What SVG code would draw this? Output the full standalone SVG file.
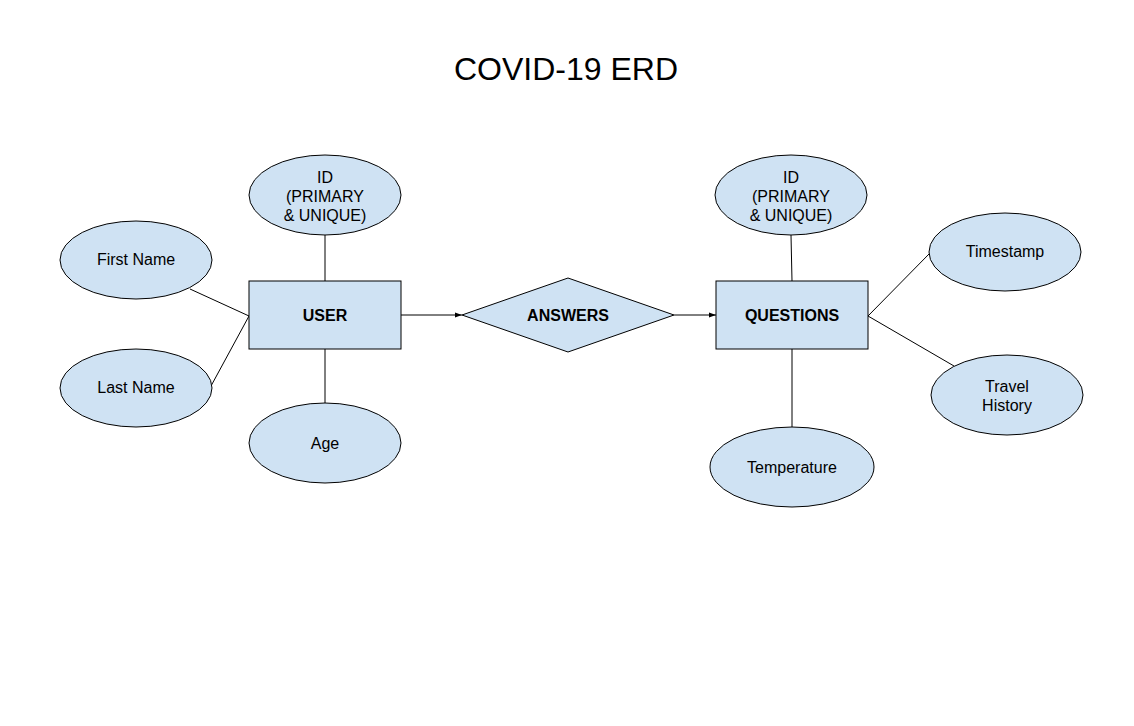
<svg xmlns="http://www.w3.org/2000/svg" width="1134" height="726" viewBox="0 0 1134 726">
<defs>
<marker id="arr" markerWidth="8" markerHeight="8" refX="7" refY="4" orient="auto" markerUnits="userSpaceOnUse">
<path d="M0,1.5 L7,4 L0,6.5 Z" fill="#000"/>
</marker>
<style>
.shape{fill:#cfe2f3;stroke:#000;stroke-width:1}
.lbl{font-family:"Liberation Sans",Arial,sans-serif;font-size:16px;fill:#000;text-anchor:middle}
.b{font-weight:bold;font-size:16px}
.ln{stroke:#000;stroke-width:1;fill:none}
</style>
</defs>
<rect width="1134" height="726" fill="#fff"/>
<text x="566" y="80" class="lbl" style="font-size:32px">COVID-19 ERD</text>
<g id="connectors">
<line class="ln" x1="325" y1="235" x2="325" y2="281"/>
<line class="ln" x1="325" y1="349" x2="325" y2="403"/>
<line class="ln" x1="190" y1="289" x2="249" y2="316"/>
<line class="ln" x1="211" y1="386" x2="249" y2="316"/>
<line class="ln" x1="401" y1="315" x2="462" y2="315" marker-end="url(#arr)"/>
<line class="ln" x1="674" y1="315" x2="716" y2="315" marker-end="url(#arr)"/>
<line class="ln" x1="791" y1="235" x2="792" y2="281"/>
<line class="ln" x1="792" y1="349" x2="792" y2="427"/>
<line class="ln" x1="868" y1="316" x2="930" y2="253"/>
<line class="ln" x1="868" y1="316" x2="954" y2="366"/>
</g>
<g id="user">
<rect class="shape" x="249" y="281" width="152" height="68"/>
<text class="lbl b" x="325" y="321">USER</text>
</g>
<g id="answers">
<polygon class="shape" points="462,315 568,278 674,315 568,352"/>
<text class="lbl b" x="568" y="321">ANSWERS</text>
</g>
<g id="questions">
<rect class="shape" x="716" y="281" width="152" height="68"/>
<text class="lbl b" x="792" y="321">QUESTIONS</text>
</g>
<g id="user-id">
<ellipse class="shape" cx="325" cy="195" rx="76" ry="40"/>
<text class="lbl" x="325" y="183">ID</text>
<text class="lbl" x="325" y="202">(PRIMARY</text>
<text class="lbl" x="325" y="221">&amp; UNIQUE)</text>
</g>
<g id="first-name">
<ellipse class="shape" cx="136" cy="260" rx="76" ry="39"/>
<text class="lbl" x="136" y="265">First Name</text>
</g>
<g id="last-name">
<ellipse class="shape" cx="136" cy="388" rx="76" ry="39"/>
<text class="lbl" x="136" y="393">Last Name</text>
</g>
<g id="age">
<ellipse class="shape" cx="325" cy="443" rx="76" ry="40"/>
<text class="lbl" x="325" y="449">Age</text>
</g>
<g id="questions-id">
<ellipse class="shape" cx="791" cy="195" rx="76" ry="40"/>
<text class="lbl" x="791" y="183">ID</text>
<text class="lbl" x="791" y="202">(PRIMARY</text>
<text class="lbl" x="791" y="221">&amp; UNIQUE)</text>
</g>
<g id="timestamp">
<ellipse class="shape" cx="1005" cy="252" rx="76" ry="39"/>
<text class="lbl" x="1005" y="257">Timestamp</text>
</g>
<g id="travel-history">
<ellipse class="shape" cx="1007" cy="395" rx="76" ry="40"/>
<text class="lbl" x="1007" y="392">Travel</text>
<text class="lbl" x="1007" y="411">History</text>
</g>
<g id="temperature">
<ellipse class="shape" cx="792" cy="467" rx="82" ry="40"/>
<text class="lbl" x="792" y="473">Temperature</text>
</g>
</svg>
